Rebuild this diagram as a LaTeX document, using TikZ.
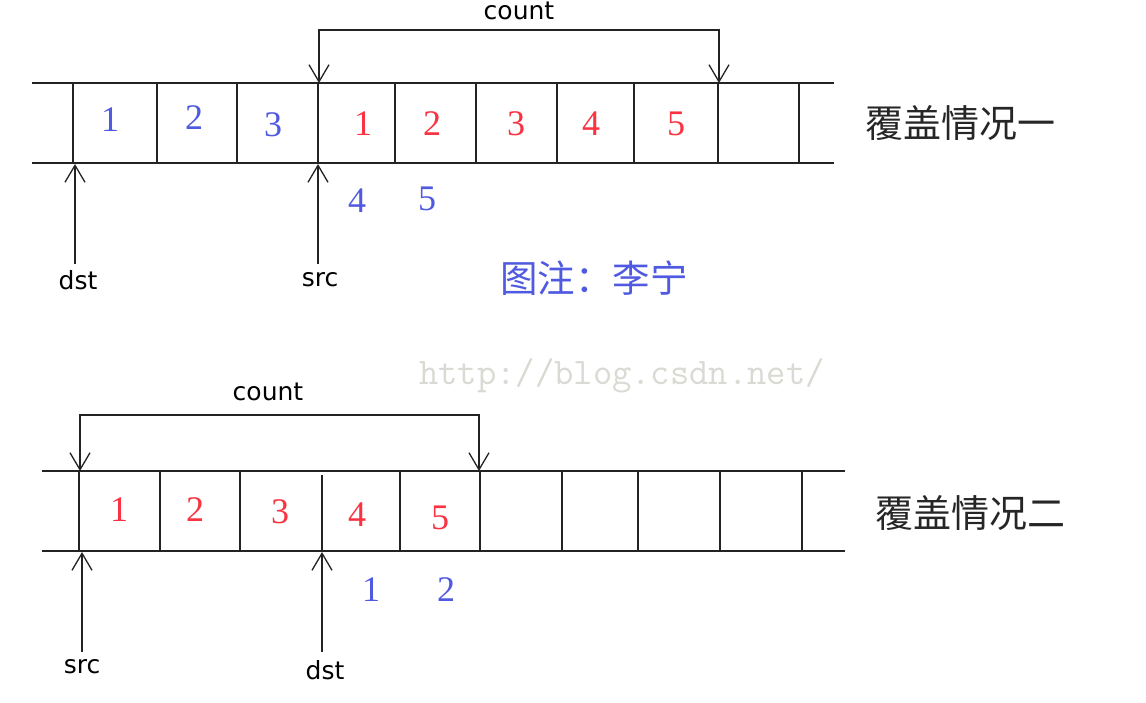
\documentclass[tikz,border=0pt]{standalone}
\usepackage{fontspec}
\setsansfont{DejaVu Sans}
\setmainfont{Liberation Serif}
\newfontfamily\cjk{Noto Sans CJK SC}
\usetikzlibrary{arrows.meta}
\definecolor{numblue}{RGB}{80,90,225}
\definecolor{numred}{RGB}{250,50,65}
\definecolor{linegray}{RGB}{35,35,35}
\definecolor{wmgray}{RGB}{218,218,212}
\tikzset{
  cellline/.style={draw=linegray, line width=2pt},
  ptr/.style={draw=linegray, line width=1.6pt, -{Straight Barb[length=17pt,width=20pt,line width=1.3pt]}},
  bracket/.style={draw=linegray, line width=1.6pt, {Straight Barb[length=17pt,width=20pt,line width=1.3pt]}-{Straight Barb[length=17pt,width=20pt,line width=1.3pt]}},
  lbl/.style={font=\sffamily\fontsize{25}{25}\selectfont, text=black, inner sep=0pt},
  num/.style={font=\rmfamily\fontsize{36}{36}\selectfont, inner sep=0pt},
  bnum/.style={num, text=numblue},
  rnum/.style={num, text=numred},
  title/.style={font=\cjk\fontsize{38}{38}\selectfont, text=black!85, inner sep=0pt},
  note/.style={font=\cjk\fontsize{37.5}{37.5}\selectfont, text=numblue, inner sep=0pt},
  wm/.style={font=\ttfamily\fontsize{37.5}{37.5}\selectfont, text=wmgray, inner sep=0pt}
}
\begin{document}
\begin{tikzpicture}[x=1pt,y=-1pt]
\useasboundingbox (0,0) rectangle (1146,702);
\fill[white] (0,0) rectangle (1146,702);

% ---------- watermark ----------
\node[wm] (wmark) at (622,376) {http://blog.csdn.net/};

% ---------- top row ----------
\draw[cellline] (32,83) -- (834,83);
\draw[cellline] (32,163) -- (834,163);
\foreach \x in {73,157,237,318,395,476,557,634,718,799}
  \draw[cellline] (\x,83) -- (\x,163);

\node[bnum] (t1) at (110,120) {1};
\node[bnum] (t2) at (194,118) {2};
\node[bnum] (t3) at (273,125) {3};
\node[rnum] (t4) at (363,124) {1};
\node[rnum] (t5) at (432,124) {2};
\node[rnum] (t6) at (516,124) {3};
\node[rnum] (t7) at (591,124) {4};
\node[rnum] (t8) at (676,124) {5};
\node[bnum] (t9) at (357,201) {4};
\node[bnum] (t10) at (427,199) {5};

\node[title] (title1) at (960,123) {覆盖情况一};
\node[note] (note) at (594,278) {图注：李宁};

\coordinate (ctA) at (319,83);
\coordinate (ctB) at (719,83);
\coordinate (ctTop) at (519,30);
\node[lbl] (count1) at (519,11) {count};
\draw[bracket] (ctA) |- (ctTop) -| (ctB);

\coordinate (dstTip) at (75,164);
\coordinate (srcTip) at (318,164);
\node[lbl, anchor=north] (dst1) at (78,270) {dst};
\node[lbl, anchor=north] (src1) at (320,272) {src};
\draw[ptr] (dst1.north -| dstTip) ++(0,-6) -- (dstTip);
\draw[ptr] (src1.north -| srcTip) ++(0,-8) -- (srcTip);

% ---------- bottom row ----------
\draw[cellline] (42,471) -- (845,471);
\draw[cellline] (42,551) -- (845,551);
\foreach \x in {79,160,240,400,480,562,638,720,802}
  \draw[cellline] (\x,471) -- (\x,551);
\draw[cellline] (322,475) -- (322,551);

\node[rnum] (b1) at (119,510) {1};
\node[rnum] (b2) at (195,510) {2};
\node[rnum] (b3) at (280,512) {3};
\node[rnum] (b4) at (357,515) {4};
\node[rnum] (b5) at (440,518) {5};
\node[bnum] (b6) at (371,590) {1};
\node[bnum] (b7) at (446,590) {2};

\node[title] (title2) at (970,513) {覆盖情况二};

\coordinate (cbA) at (80,471);
\coordinate (cbB) at (479,471);
\coordinate (cbTop) at (268,415);
\node[lbl] (count2) at (268,392) {count};
\draw[bracket] (cbA) |- (cbTop) -| (cbB);

\coordinate (srcTip2) at (82,552);
\coordinate (dstTip2) at (322,552);
\node[lbl, anchor=north] (src2) at (82,659) {src};
\node[lbl, anchor=north] (dst2) at (325,660) {dst};
\draw[ptr] (src2.north -| srcTip2) ++(0,-7) -- (srcTip2);
\draw[ptr] (dst2.north -| dstTip2) ++(0,-8) -- (dstTip2);
\end{tikzpicture}
\end{document}
